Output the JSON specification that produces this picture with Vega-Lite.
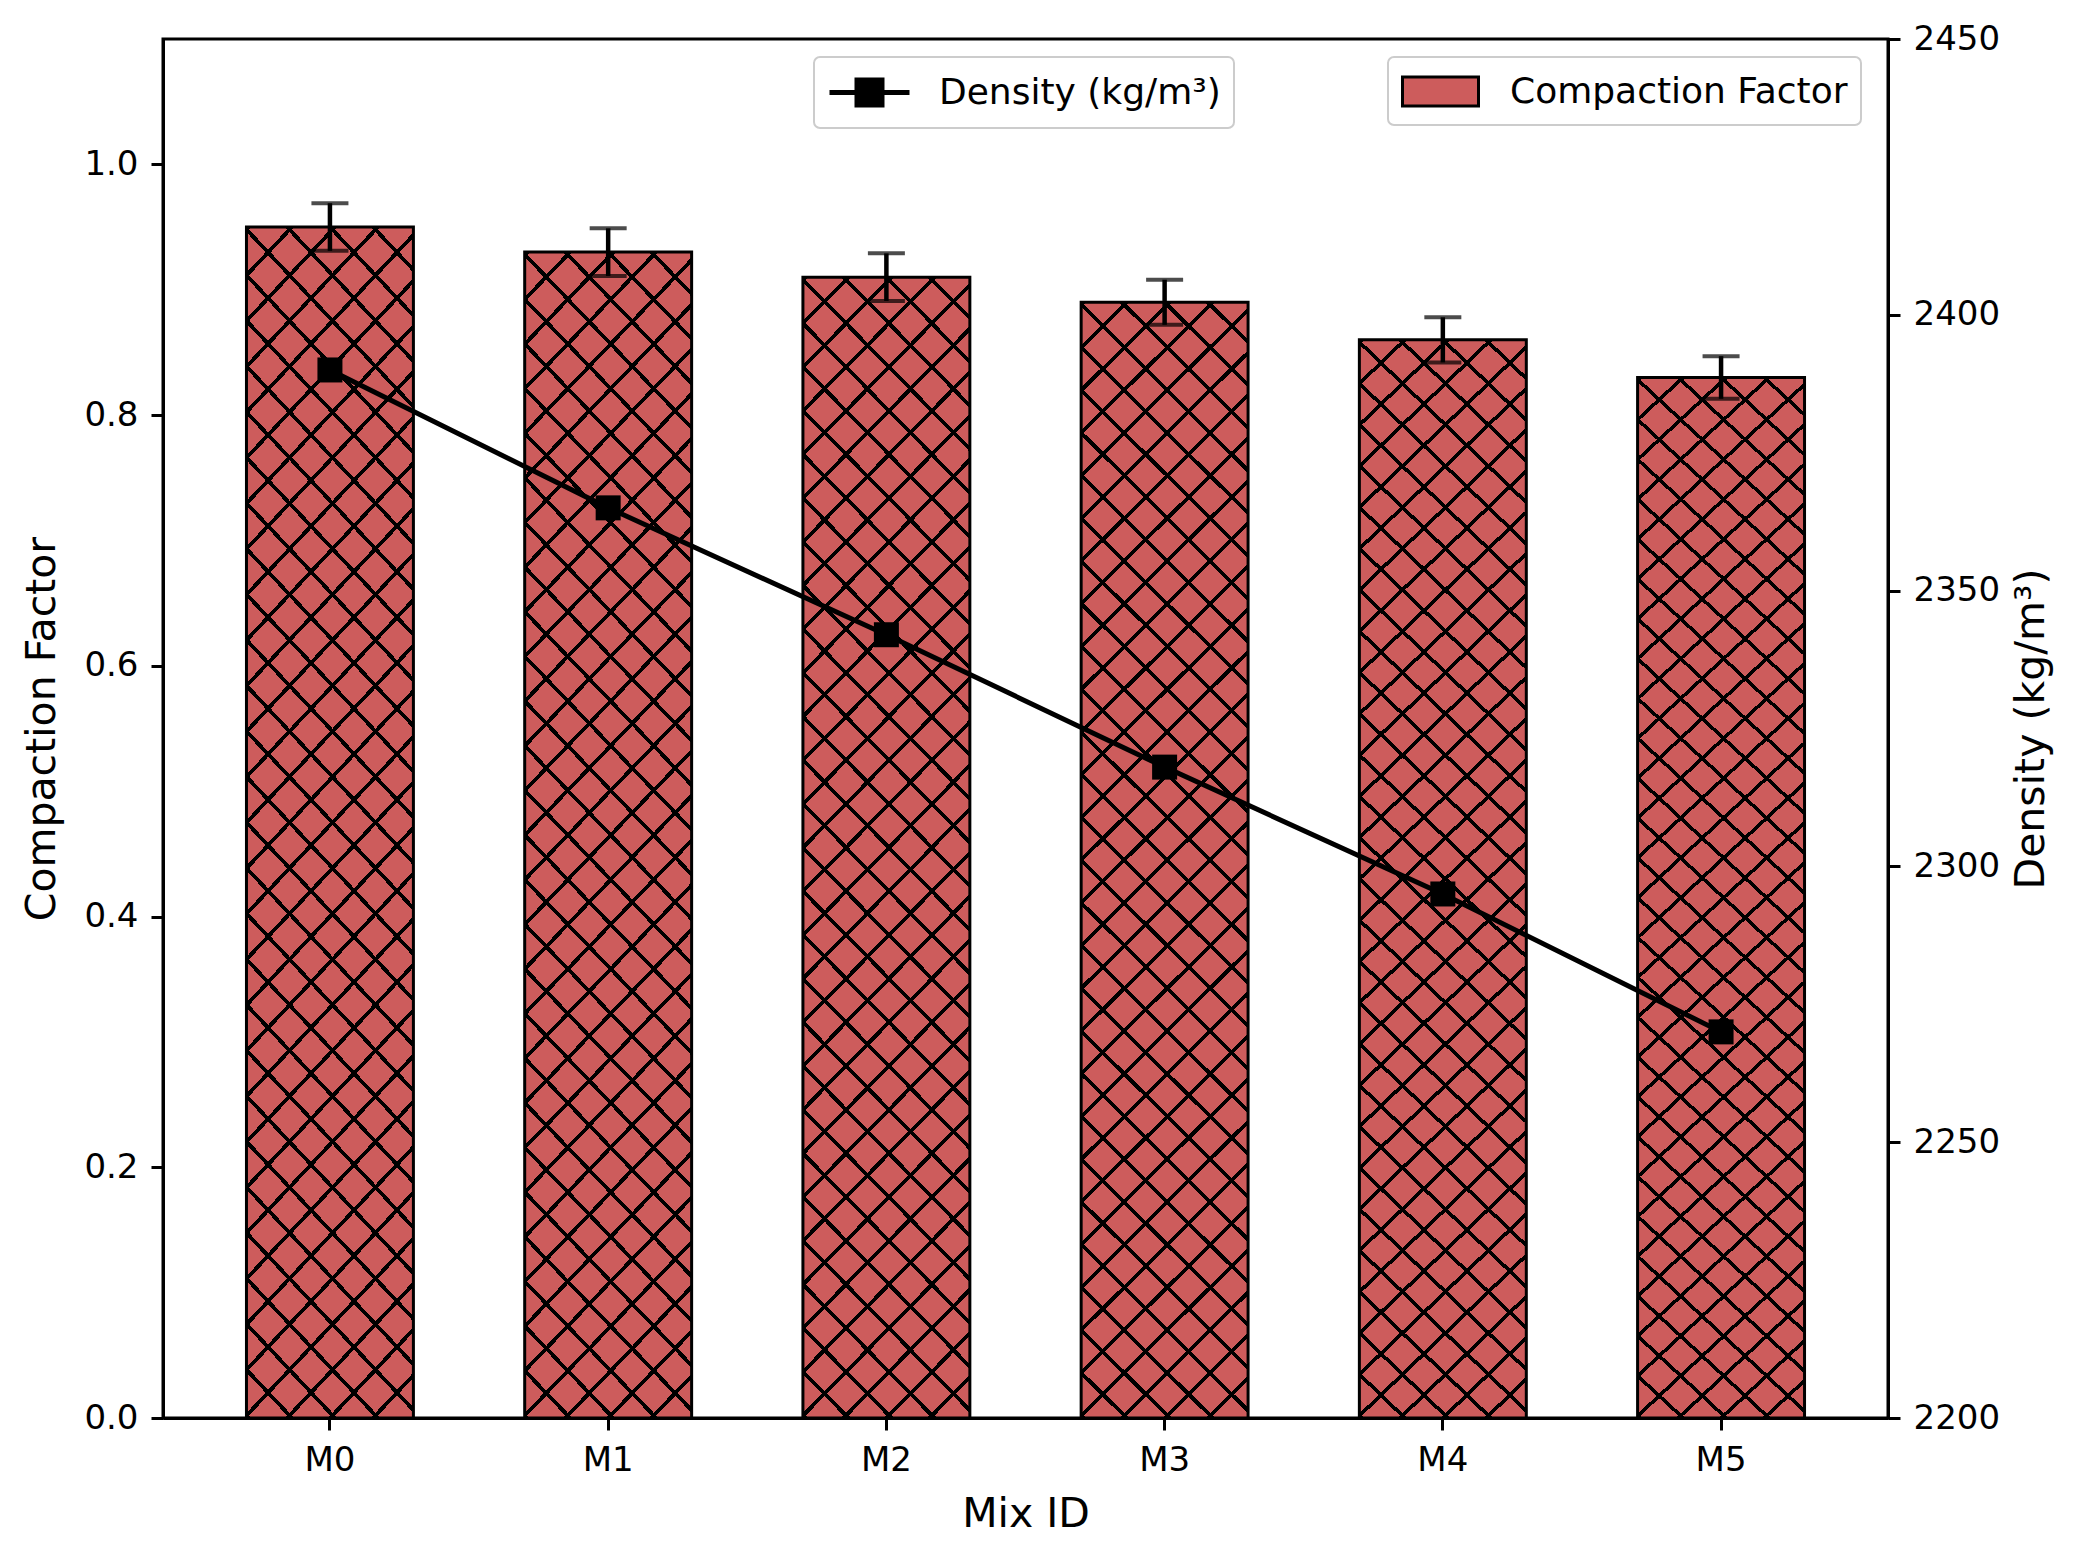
{
  "$schema": "https://vega.github.io/schema/vega-lite/v6.json",
  "width": 1725,
  "height": 1379,
  "autosize": {"type": "none"},
  "padding": {"left": 163, "top": 39, "right": 204, "bottom": 133},
  "background": "white",
  "data": {
    "values": [
      {"mix": "M0", "cf": 0.95, "lo": 0.931, "hi": 0.969, "density": 2390},
      {"mix": "M1", "cf": 0.93, "lo": 0.911, "hi": 0.949, "density": 2365},
      {"mix": "M2", "cf": 0.91, "lo": 0.891, "hi": 0.929, "density": 2342},
      {"mix": "M3", "cf": 0.89, "lo": 0.872, "hi": 0.908, "density": 2318},
      {"mix": "M4", "cf": 0.86, "lo": 0.842, "hi": 0.878, "density": 2295},
      {"mix": "M5", "cf": 0.83, "lo": 0.813, "hi": 0.847, "density": 2270}
    ]
  },
  "encoding": {
    "x": {
      "field": "mix",
      "type": "nominal",
      "sort": null,
      "scale": {"paddingInner": 0.4, "paddingOuter": 0.3},
      "axis": {"title": "Mix ID", "labelAngle": 0, "labelPadding": 13, "titlePadding": 17}
    }
  },
  "layer": [
    {
      "layer": [
        {
          "mark": {"type": "bar"},
          "encoding": {
            "y": {
              "field": "cf",
              "type": "quantitative",
              "title": "Compaction Factor",
              "scale": {"domain": [0, 1.1], "nice": false, "zero": true},
              "axis": {"values": [0, 0.2, 0.4, 0.6, 0.8, 1.0], "format": ".1f", "titlePadding": 20, "labelPadding": 13}
            },
            "fill": {
              "datum": "Compaction Factor",
              "scale": {"range": ["#cd5c5c"]},
              "legend": {
                "orient": "none", "legendX": 1225, "legendY": 18, "title": null,
                "symbolType": "M-1,-0.725L2.8,-0.725L2.8,0.725L-1,0.725Z",
                "symbolSize": 1600, "symbolStrokeColor": "black", "symbolStrokeWidth": 3,
                "labelOffset": 66, "labelFontSize": 36, "labelLimit": 600, "padding": 13,
                "strokeColor": "#cccccc", "cornerRadius": 6, "fillColor": "white",
                "encode": {"legend": {"update": {"strokeWidth": {"value": 2}}}}
              }
            }
          }
        },
        {
          "mark": {
            "type": "bar",
            "fill": {
              "gradient": "linear", "x1": 0, "y1": 0, "x2": 0.1672, "y2": 1.1239,
              "stops": [
                {"offset": 0, "color": "#000"}, {"offset": 0.004, "color": "#000"}, {"offset": 0.004, "color": "transparent"}, {"offset": 0.0333, "color": "transparent"},
                {"offset": 0.0333, "color": "#000"}, {"offset": 0.0373, "color": "#000"}, {"offset": 0.0373, "color": "transparent"}, {"offset": 0.0667, "color": "transparent"},
                {"offset": 0.0667, "color": "#000"}, {"offset": 0.0707, "color": "#000"}, {"offset": 0.0707, "color": "transparent"}, {"offset": 0.1, "color": "transparent"},
                {"offset": 0.1, "color": "#000"}, {"offset": 0.104, "color": "#000"}, {"offset": 0.104, "color": "transparent"}, {"offset": 0.1333, "color": "transparent"},
                {"offset": 0.1333, "color": "#000"}, {"offset": 0.1373, "color": "#000"}, {"offset": 0.1373, "color": "transparent"}, {"offset": 0.1667, "color": "transparent"},
                {"offset": 0.1667, "color": "#000"}, {"offset": 0.1707, "color": "#000"}, {"offset": 0.1707, "color": "transparent"}, {"offset": 0.2, "color": "transparent"},
                {"offset": 0.2, "color": "#000"}, {"offset": 0.204, "color": "#000"}, {"offset": 0.204, "color": "transparent"}, {"offset": 0.2333, "color": "transparent"},
                {"offset": 0.2333, "color": "#000"}, {"offset": 0.2373, "color": "#000"}, {"offset": 0.2373, "color": "transparent"}, {"offset": 0.2667, "color": "transparent"},
                {"offset": 0.2667, "color": "#000"}, {"offset": 0.2707, "color": "#000"}, {"offset": 0.2707, "color": "transparent"}, {"offset": 0.3, "color": "transparent"},
                {"offset": 0.3, "color": "#000"}, {"offset": 0.304, "color": "#000"}, {"offset": 0.304, "color": "transparent"}, {"offset": 0.3333, "color": "transparent"},
                {"offset": 0.3333, "color": "#000"}, {"offset": 0.3373, "color": "#000"}, {"offset": 0.3373, "color": "transparent"}, {"offset": 0.3667, "color": "transparent"},
                {"offset": 0.3667, "color": "#000"}, {"offset": 0.3707, "color": "#000"}, {"offset": 0.3707, "color": "transparent"}, {"offset": 0.4, "color": "transparent"},
                {"offset": 0.4, "color": "#000"}, {"offset": 0.404, "color": "#000"}, {"offset": 0.404, "color": "transparent"}, {"offset": 0.4333, "color": "transparent"},
                {"offset": 0.4333, "color": "#000"}, {"offset": 0.4373, "color": "#000"}, {"offset": 0.4373, "color": "transparent"}, {"offset": 0.4667, "color": "transparent"},
                {"offset": 0.4667, "color": "#000"}, {"offset": 0.4707, "color": "#000"}, {"offset": 0.4707, "color": "transparent"}, {"offset": 0.5, "color": "transparent"},
                {"offset": 0.5, "color": "#000"}, {"offset": 0.504, "color": "#000"}, {"offset": 0.504, "color": "transparent"}, {"offset": 0.5333, "color": "transparent"},
                {"offset": 0.5333, "color": "#000"}, {"offset": 0.5373, "color": "#000"}, {"offset": 0.5373, "color": "transparent"}, {"offset": 0.5667, "color": "transparent"},
                {"offset": 0.5667, "color": "#000"}, {"offset": 0.5707, "color": "#000"}, {"offset": 0.5707, "color": "transparent"}, {"offset": 0.6, "color": "transparent"},
                {"offset": 0.6, "color": "#000"}, {"offset": 0.604, "color": "#000"}, {"offset": 0.604, "color": "transparent"}, {"offset": 0.6333, "color": "transparent"},
                {"offset": 0.6333, "color": "#000"}, {"offset": 0.6373, "color": "#000"}, {"offset": 0.6373, "color": "transparent"}, {"offset": 0.6667, "color": "transparent"},
                {"offset": 0.6667, "color": "#000"}, {"offset": 0.6707, "color": "#000"}, {"offset": 0.6707, "color": "transparent"}, {"offset": 0.7, "color": "transparent"},
                {"offset": 0.7, "color": "#000"}, {"offset": 0.704, "color": "#000"}, {"offset": 0.704, "color": "transparent"}, {"offset": 0.7333, "color": "transparent"},
                {"offset": 0.7333, "color": "#000"}, {"offset": 0.7373, "color": "#000"}, {"offset": 0.7373, "color": "transparent"}, {"offset": 0.7667, "color": "transparent"},
                {"offset": 0.7667, "color": "#000"}, {"offset": 0.7707, "color": "#000"}, {"offset": 0.7707, "color": "transparent"}, {"offset": 0.8, "color": "transparent"},
                {"offset": 0.8, "color": "#000"}, {"offset": 0.804, "color": "#000"}, {"offset": 0.804, "color": "transparent"}, {"offset": 0.8333, "color": "transparent"},
                {"offset": 0.8333, "color": "#000"}, {"offset": 0.8373, "color": "#000"}, {"offset": 0.8373, "color": "transparent"}, {"offset": 0.8667, "color": "transparent"},
                {"offset": 0.8667, "color": "#000"}, {"offset": 0.8707, "color": "#000"}, {"offset": 0.8707, "color": "transparent"}, {"offset": 0.9, "color": "transparent"},
                {"offset": 0.9, "color": "#000"}, {"offset": 0.904, "color": "#000"}, {"offset": 0.904, "color": "transparent"}, {"offset": 0.9333, "color": "transparent"},
                {"offset": 0.9333, "color": "#000"}, {"offset": 0.9373, "color": "#000"}, {"offset": 0.9373, "color": "transparent"}, {"offset": 0.9667, "color": "transparent"},
                {"offset": 0.9667, "color": "#000"}, {"offset": 0.9707, "color": "#000"}, {"offset": 0.9707, "color": "transparent"}, {"offset": 1, "color": "transparent"}
              ]
            }
          },
          "encoding": {
            "y": {"field": "cf", "type": "quantitative", "title": "Compaction Factor"}
          }
        },
        {
          "mark": {
            "type": "bar",
            "stroke": "black",
            "strokeWidth": 3,
            "fill": {
              "gradient": "linear", "x1": 0, "y1": 1, "x2": 0.1672, "y2": -0.1239,
              "stops": [
                {"offset": 0, "color": "#000"}, {"offset": 0.004, "color": "#000"}, {"offset": 0.004, "color": "transparent"}, {"offset": 0.0333, "color": "transparent"},
                {"offset": 0.0333, "color": "#000"}, {"offset": 0.0373, "color": "#000"}, {"offset": 0.0373, "color": "transparent"}, {"offset": 0.0667, "color": "transparent"},
                {"offset": 0.0667, "color": "#000"}, {"offset": 0.0707, "color": "#000"}, {"offset": 0.0707, "color": "transparent"}, {"offset": 0.1, "color": "transparent"},
                {"offset": 0.1, "color": "#000"}, {"offset": 0.104, "color": "#000"}, {"offset": 0.104, "color": "transparent"}, {"offset": 0.1333, "color": "transparent"},
                {"offset": 0.1333, "color": "#000"}, {"offset": 0.1373, "color": "#000"}, {"offset": 0.1373, "color": "transparent"}, {"offset": 0.1667, "color": "transparent"},
                {"offset": 0.1667, "color": "#000"}, {"offset": 0.1707, "color": "#000"}, {"offset": 0.1707, "color": "transparent"}, {"offset": 0.2, "color": "transparent"},
                {"offset": 0.2, "color": "#000"}, {"offset": 0.204, "color": "#000"}, {"offset": 0.204, "color": "transparent"}, {"offset": 0.2333, "color": "transparent"},
                {"offset": 0.2333, "color": "#000"}, {"offset": 0.2373, "color": "#000"}, {"offset": 0.2373, "color": "transparent"}, {"offset": 0.2667, "color": "transparent"},
                {"offset": 0.2667, "color": "#000"}, {"offset": 0.2707, "color": "#000"}, {"offset": 0.2707, "color": "transparent"}, {"offset": 0.3, "color": "transparent"},
                {"offset": 0.3, "color": "#000"}, {"offset": 0.304, "color": "#000"}, {"offset": 0.304, "color": "transparent"}, {"offset": 0.3333, "color": "transparent"},
                {"offset": 0.3333, "color": "#000"}, {"offset": 0.3373, "color": "#000"}, {"offset": 0.3373, "color": "transparent"}, {"offset": 0.3667, "color": "transparent"},
                {"offset": 0.3667, "color": "#000"}, {"offset": 0.3707, "color": "#000"}, {"offset": 0.3707, "color": "transparent"}, {"offset": 0.4, "color": "transparent"},
                {"offset": 0.4, "color": "#000"}, {"offset": 0.404, "color": "#000"}, {"offset": 0.404, "color": "transparent"}, {"offset": 0.4333, "color": "transparent"},
                {"offset": 0.4333, "color": "#000"}, {"offset": 0.4373, "color": "#000"}, {"offset": 0.4373, "color": "transparent"}, {"offset": 0.4667, "color": "transparent"},
                {"offset": 0.4667, "color": "#000"}, {"offset": 0.4707, "color": "#000"}, {"offset": 0.4707, "color": "transparent"}, {"offset": 0.5, "color": "transparent"},
                {"offset": 0.5, "color": "#000"}, {"offset": 0.504, "color": "#000"}, {"offset": 0.504, "color": "transparent"}, {"offset": 0.5333, "color": "transparent"},
                {"offset": 0.5333, "color": "#000"}, {"offset": 0.5373, "color": "#000"}, {"offset": 0.5373, "color": "transparent"}, {"offset": 0.5667, "color": "transparent"},
                {"offset": 0.5667, "color": "#000"}, {"offset": 0.5707, "color": "#000"}, {"offset": 0.5707, "color": "transparent"}, {"offset": 0.6, "color": "transparent"},
                {"offset": 0.6, "color": "#000"}, {"offset": 0.604, "color": "#000"}, {"offset": 0.604, "color": "transparent"}, {"offset": 0.6333, "color": "transparent"},
                {"offset": 0.6333, "color": "#000"}, {"offset": 0.6373, "color": "#000"}, {"offset": 0.6373, "color": "transparent"}, {"offset": 0.6667, "color": "transparent"},
                {"offset": 0.6667, "color": "#000"}, {"offset": 0.6707, "color": "#000"}, {"offset": 0.6707, "color": "transparent"}, {"offset": 0.7, "color": "transparent"},
                {"offset": 0.7, "color": "#000"}, {"offset": 0.704, "color": "#000"}, {"offset": 0.704, "color": "transparent"}, {"offset": 0.7333, "color": "transparent"},
                {"offset": 0.7333, "color": "#000"}, {"offset": 0.7373, "color": "#000"}, {"offset": 0.7373, "color": "transparent"}, {"offset": 0.7667, "color": "transparent"},
                {"offset": 0.7667, "color": "#000"}, {"offset": 0.7707, "color": "#000"}, {"offset": 0.7707, "color": "transparent"}, {"offset": 0.8, "color": "transparent"},
                {"offset": 0.8, "color": "#000"}, {"offset": 0.804, "color": "#000"}, {"offset": 0.804, "color": "transparent"}, {"offset": 0.8333, "color": "transparent"},
                {"offset": 0.8333, "color": "#000"}, {"offset": 0.8373, "color": "#000"}, {"offset": 0.8373, "color": "transparent"}, {"offset": 0.8667, "color": "transparent"},
                {"offset": 0.8667, "color": "#000"}, {"offset": 0.8707, "color": "#000"}, {"offset": 0.8707, "color": "transparent"}, {"offset": 0.9, "color": "transparent"},
                {"offset": 0.9, "color": "#000"}, {"offset": 0.904, "color": "#000"}, {"offset": 0.904, "color": "transparent"}, {"offset": 0.9333, "color": "transparent"},
                {"offset": 0.9333, "color": "#000"}, {"offset": 0.9373, "color": "#000"}, {"offset": 0.9373, "color": "transparent"}, {"offset": 0.9667, "color": "transparent"},
                {"offset": 0.9667, "color": "#000"}, {"offset": 0.9707, "color": "#000"}, {"offset": 0.9707, "color": "transparent"}, {"offset": 1, "color": "transparent"}
              ]
            }
          },
          "encoding": {
            "y": {"field": "cf", "type": "quantitative", "title": "Compaction Factor"}
          }
        },
        {
          "mark": {"type": "rule", "color": "black", "strokeWidth": 4.5},
          "encoding": {
            "y": {"field": "lo", "type": "quantitative", "title": "Compaction Factor"},
            "y2": {"field": "hi"}
          }
        },
        {
          "mark": {"type": "tick", "color": "black", "thickness": 4, "size": 37},
          "encoding": {
            "y": {"field": "lo", "type": "quantitative", "title": "Compaction Factor"}
          }
        },
        {
          "mark": {"type": "tick", "color": "black", "thickness": 4, "size": 37},
          "encoding": {
            "y": {"field": "hi", "type": "quantitative", "title": "Compaction Factor"}
          }
        }
      ]
    },
    {
      "layer": [
        {
          "mark": {"type": "line", "strokeWidth": 5},
          "encoding": {
            "y": {
              "field": "density",
              "type": "quantitative",
              "title": "Density (kg/m³)",
              "scale": {"domain": [2200, 2450], "nice": false, "zero": false},
              "axis": {"orient": "right", "values": [2200, 2250, 2300, 2350, 2400, 2450], "format": "d", "titleAngle": 270, "titleBaseline": "top", "titlePadding": 12, "labelPadding": 13}
            },
            "stroke": {
              "datum": "Density (kg/m³)",
              "scale": {"range": ["black"]},
              "legend": {
                "orient": "none", "legendX": 651, "legendY": 18, "title": null,
                "symbolType": "M-1,0L3,0M0.375,-0.625L1.625,-0.625L1.625,0.625L0.375,0.625Z",
                "symbolSize": 1600, "symbolStrokeWidth": 5, "symbolFillColor": "black",
                "labelOffset": 67, "labelFontSize": 36, "labelLimit": 600, "padding": 13,
                "strokeColor": "#cccccc", "cornerRadius": 6, "fillColor": "white",
                "encode": {
                  "legend": {"update": {"strokeWidth": {"value": 2}}},
                  "symbols": {"update": {"fill": {"value": "black"}}}
                }
              }
            }
          }
        },
        {
          "mark": {"type": "point", "shape": "square", "filled": true, "size": 625, "color": "black", "opacity": 1},
          "encoding": {
            "y": {"field": "density", "type": "quantitative", "title": "Density (kg/m³)"}
          }
        }
      ]
    }
  ],
  "resolve": {"scale": {"y": "independent"}},
  "config": {
    "font": "DejaVu Sans",
    "view": {"stroke": "black", "strokeWidth": 3},
    "axis": {
      "grid": false,
      "domainColor": "black",
      "domainWidth": 3,
      "tickColor": "black",
      "tickWidth": 3,
      "tickSize": 12,
      "labelColor": "black",
      "labelFontSize": 34,
      "labelFont": "DejaVu Sans",
      "titleColor": "black",
      "titleFontSize": 41,
      "titleFontWeight": "normal",
      "titleFont": "DejaVu Sans"
    },
    "legend": {
      "labelColor": "black",
      "labelFont": "DejaVu Sans"
    }
  }
}
